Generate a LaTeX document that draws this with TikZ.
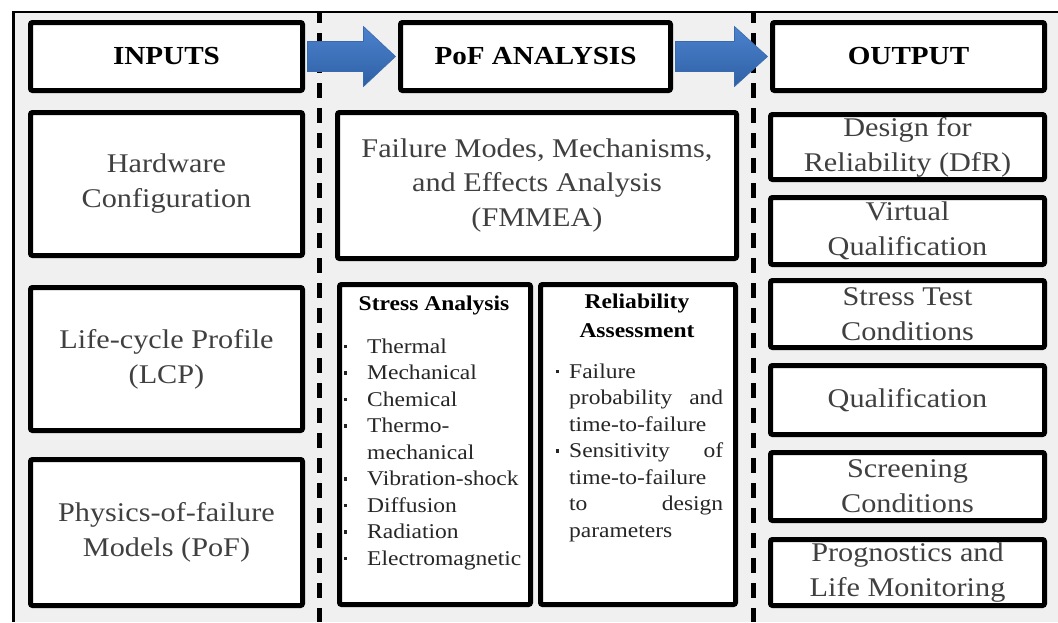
\documentclass[tikz,border=0pt]{standalone}
\usepackage{fontspec}
\setmainfont{Liberation Serif}[FakeStretch=1.12]
\usetikzlibrary{calc}
\definecolor{bggray}{HTML}{F0F0F0}
\definecolor{txtgray}{HTML}{404040}
\definecolor{itemgray}{HTML}{262626}
\definecolor{arrtop}{HTML}{4C82CE}
\definecolor{arrbot}{HTML}{2E60A4}
\definecolor{arredge}{HTML}{3A6AAE}
\newcommand\mybul[1]{\llap{\raisebox{5pt}{\rule{3.2pt}{3.2pt}}\hspace{#1}}}
\begin{document}
\begin{tikzpicture}[x=1pt,y=-1pt,
  box/.style={draw=black, line width=5pt, fill=white, rounded corners=2pt, inner sep=0pt, align=center},
  headtxt/.style={font=\fontsize{26}{30}\selectfont\bfseries, text=black},
  bigtxt/.style={font=\fontsize{27}{35}\selectfont, text=txtgray},
  subhead/.style={font=\fontsize{21}{26}\selectfont\bfseries, text=black, inner sep=0pt},
  item/.style={font=\fontsize{21}{26.5}\selectfont, text=itemgray, inner sep=0pt},
  dashline/.style={line width=5pt, dash pattern=on 15pt off 10pt, dash phase=4pt},
  bigarrow/.style={top color=arrtop, bottom color=arrbot, draw=arredge, line width=0.6pt}
]
\useasboundingbox (0,0) rectangle (1058,622);
% background and frame
\fill[white] (0,0) rectangle (1058,622);
\fill[bggray] (13,12) rectangle (1058,622);
\draw[line width=2pt] (12,12) -- (1058,12);
\draw[line width=3pt] (13,11) -- (13,622);
\draw[dashline] (319,12) -- (319,622);
\draw[dashline] (753.5,12) -- (753.5,622);

% header boxes
\node[box, headtxt, minimum width=272pt, minimum height=68pt] (inputs) at (166.5,56.5) {INPUTS};
\node[box, headtxt, minimum width=270pt, minimum height=68pt] (pofa) at (535.5,56.5) {PoF ANALYSIS};
\node[box, headtxt, minimum width=272pt, minimum height=68pt] (output) at (908.5,56.5) {OUTPUT};

% block arrows
\shade[bigarrow] ($(inputs.east)+(2.5,-15)$) -- ($(pofa.west)+(-34.5,-15)$) -- ($(pofa.west)+(-34.5,-30)$)
  -- ($(pofa.west)+(-2.5,0)$) -- ($(pofa.west)+(-34.5,30)$) -- ($(pofa.west)+(-34.5,15)$)
  -- ($(inputs.east)+(2.5,15)$) -- cycle;
\shade[bigarrow] ($(pofa.east)+(2.5,-15)$) -- ($(output.west)+(-35.5,-15)$) -- ($(output.west)+(-35.5,-30)$)
  -- ($(output.west)+(-2.5,0)$) -- ($(output.west)+(-35.5,30)$) -- ($(output.west)+(-35.5,15)$)
  -- ($(pofa.east)+(2.5,15)$) -- cycle;

% inputs column
\node[box, bigtxt, minimum width=272pt, minimum height=143pt] (hw) at (166.5,184) {Hardware\\Configuration};
\node[box, bigtxt, minimum width=272pt, minimum height=143pt] (lcp) at (166.5,359) {Life-cycle Profile\\(LCP)};
\node[box, bigtxt, minimum width=272pt, minimum height=146pt] (pofm) at (166.5,532.5) {Physics-of-failure\\Models (PoF)};

% analysis column
\node[box, bigtxt, minimum width=399pt, minimum height=146pt] (fmmea) at (537,185.5) {Failure Modes, Mechanisms,\\and Effects Analysis\\(FMMEA)};
\node[box, minimum width=191pt, minimum height=320pt] (stress) at (435,444.5) {};
\node[box, minimum width=195pt, minimum height=320pt] (rel) at (638,444.5) {};

\node[subhead, anchor=base] (sh) at (434,310) {Stress Analysis};
\foreach \t/\b [count=\i from 0] in {Thermal/1, Mechanical/1, Chemical/1, Thermo-/1, mechanical/0, Vibration-shock/1, Diffusion/1, Radiation/1, Electromagnetic/1}
  \node[item, anchor=base west] (sa\i) at (367,{353+26.5*\i}) {\ifnum\b=1 \mybul{20.4pt}\fi\t};

\node[subhead, anchor=base] (rh1) at (637,308) {Reliability};
\node[subhead, anchor=base] (rh2) at (637,337) {Assessment};
\node[item, anchor=base west] (ra0) at (569,378) {\mybul{10.4pt}Failure};
\node[item, anchor=base west] (ra1) at (569,404.5) {\makebox[154pt][s]{probability and}};
\node[item, anchor=base west] (ra2) at (569,431) {time-to-failure};
\node[item, anchor=base west] (ra3) at (569,457.5) {\mybul{10.4pt}\makebox[154pt][s]{Sensitivity of}};
\node[item, anchor=base west] (ra4) at (569,484) {time-to-failure};
\node[item, anchor=base west] (ra5) at (569,510.5) {\makebox[154pt][s]{to design}};
\node[item, anchor=base west] (ra6) at (569,537) {parameters};

% output column
\node[box, bigtxt, minimum width=274pt, minimum height=65pt] (r1) at (907.5,147) {Design for\\Reliability (DfR)};
\node[box, bigtxt, minimum width=274pt, minimum height=67pt] (r2) at (907.5,231) {Virtual\\Qualification};
\node[box, bigtxt, minimum width=274pt, minimum height=67pt] (r3) at (907.5,314) {Stress Test\\Conditions};
\node[box, bigtxt, minimum width=274pt, minimum height=69pt] (r4) at (907.5,400) {Qualification};
\node[box, bigtxt, minimum width=274pt, minimum height=68pt] (r5) at (907.5,486.5) {Screening\\Conditions};
\node[box, bigtxt, minimum width=274pt, minimum height=66pt] (r6) at (907.5,572.5) {Prognostics and\\Life Monitoring};
\end{tikzpicture}
\end{document}
